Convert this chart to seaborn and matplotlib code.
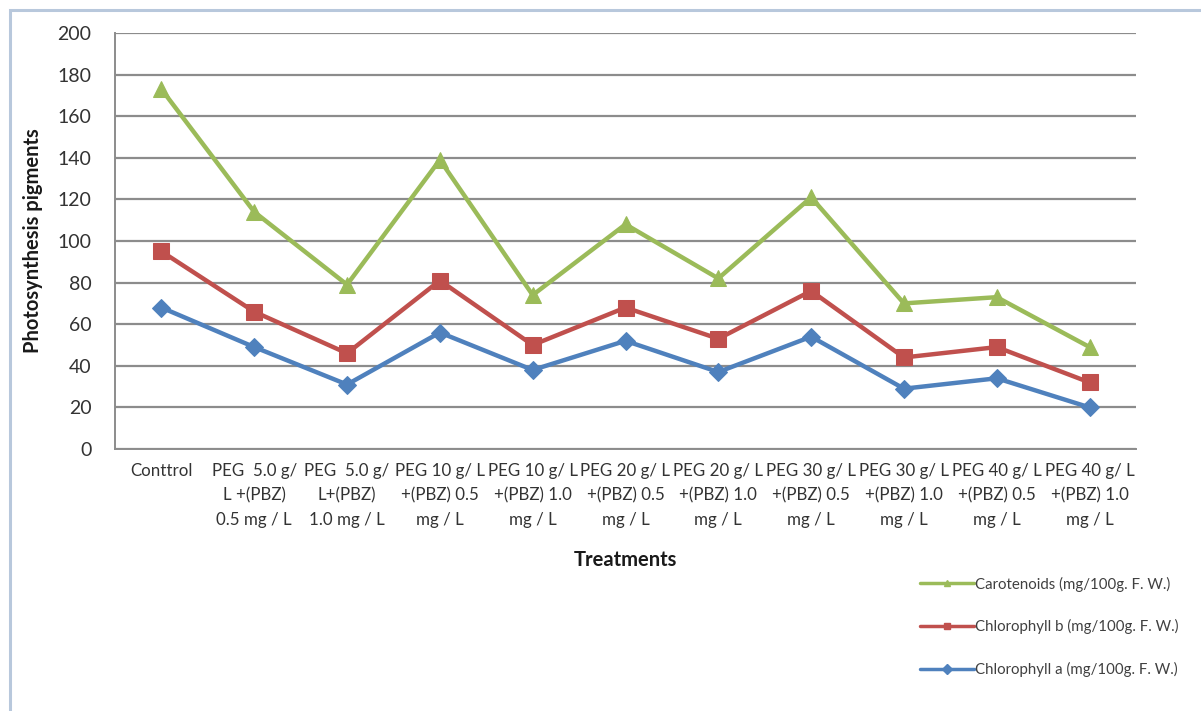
import matplotlib
matplotlib.use("Agg")
import matplotlib.pyplot as plt
from matplotlib.lines import Line2D
from matplotlib.patches import Rectangle
import seaborn as sns
import pandas as pd

# Treatments (x-axis categories, wrapped as printed)
treatments = [
    "Conttrol",
    "PEG  5.0 g/\nL +(PBZ)\n0.5 mg / L",
    "PEG  5.0 g/\nL+(PBZ)\n1.0 mg / L",
    "PEG 10 g/ L\n+(PBZ) 0.5\nmg / L",
    "PEG 10 g/ L\n+(PBZ) 1.0\nmg / L",
    "PEG 20 g/ L\n+(PBZ) 0.5\nmg / L",
    "PEG 20 g/ L\n+(PBZ) 1.0\nmg / L",
    "PEG 30 g/ L\n+(PBZ) 0.5\nmg / L",
    "PEG 30 g/ L\n+(PBZ) 1.0\nmg / L",
    "PEG 40 g/ L\n+(PBZ) 0.5\nmg / L",
    "PEG 40 g/ L\n+(PBZ) 1.0\nmg / L",
]

series_names = [
    "Carotenoids (mg/100g. F. W.)",
    "Chlorophyll b (mg/100g. F. W.)",
    "Chlorophyll a (mg/100g. F. W.)",
]

carotenoids = [173, 114, 79, 139, 74, 108, 82, 121, 70, 73, 49]
chlorophyll_b = [95, 66, 46, 81, 50, 68, 53, 76, 44, 49, 32]
chlorophyll_a = [68, 49, 31, 56, 38, 52, 37, 54, 29, 34, 20]

y_ticks = [0, 20, 40, 60, 80, 100, 120, 140, 160, 180, 200]

colors = {
    series_names[0]: "#9bbb59",
    series_names[1]: "#c0504d",
    series_names[2]: "#4f81bd",
}
markers = {
    series_names[0]: "^",
    series_names[1]: "s",
    series_names[2]: "D",
}
marker_sizes = {
    series_names[0]: 12,
    series_names[1]: 11,
    series_names[2]: 9,
}

rows = []
for name, values in zip(series_names, [carotenoids, chlorophyll_b, chlorophyll_a]):
    for i, v in enumerate(values):
        rows.append({"pos": i, "value": v, "series": name})
df = pd.DataFrame(rows)

sns.set_theme(style="white")
plt.rcParams["font.family"] = ["Lato", "DejaVu Sans"]

fig = plt.figure(figsize=(12.01, 7.11), dpi=100)
ax = fig.add_axes([115 / 1201, 1 - 449 / 711, (1136 - 115) / 1201, (449 - 33) / 711])

# draw bottom series first so the upper lines sit on top
for name in reversed(series_names):
    sns.lineplot(
        data=df[df["series"] == name], x="pos", y="value",
        color=colors[name], marker=markers[name], markersize=marker_sizes[name],
        markeredgecolor=colors[name], linewidth=3.2, ax=ax, legend=False,
        zorder=3,
    )

ax.set_xlim(-0.5, len(treatments) - 0.5)
ax.set_ylim(0, 200)
ax.set_yticks(y_ticks)
ax.set_yticklabels([str(t) for t in y_ticks], fontsize=14, color="#333333")

# category labels at centres, tick marks at category boundaries
ax.set_xticks(range(len(treatments)))
ax.set_xticklabels(treatments, fontsize=12.2, color="#333333", linespacing=1.65)
ax.set_xticks([i - 0.5 for i in range(len(treatments) + 1)], minor=True)
ax.tick_params(axis="x", which="major", length=0, pad=10)
ax.tick_params(axis="x", which="minor", length=6, width=1.2, color="#8c8c8c", direction="out")
ax.tick_params(axis="y", length=6, width=1.2, color="#8c8c8c", direction="out", pad=11)

ax.yaxis.grid(True, color="#8c8c8c", linewidth=1.6)
ax.xaxis.grid(False)
ax.set_axisbelow(True)
for side in ["top", "right"]:
    ax.spines[side].set_visible(False)
for side in ["left", "bottom"]:
    ax.spines[side].set_color("#8c8c8c")
    ax.spines[side].set_linewidth(1.4)

ax.set_xlabel("Treatments", fontsize=14.5, fontweight="bold", color="#1a1a1a", labelpad=16)
ax.set_ylabel("Photosynthesis pigments", fontsize=14.5, fontweight="bold", color="#1a1a1a", labelpad=10)

handles = [
    Line2D([0], [0], color=colors[n], marker=markers[n], markersize=5,
           linewidth=2.5, markeredgecolor=colors[n])
    for n in series_names
]
fig.legend(
    handles, series_names, loc="upper left",
    bbox_to_anchor=(906 / 1201, 1 - 563 / 711), frameon=False,
    fontsize=10.8, handlelength=3.6, handletextpad=0.1, labelspacing=1.85,
    labelcolor="#404040",
)

# light chart-area frame
fig.patches.append(Rectangle((10 / 1201, -0.05), 1.2, 1 - 10 / 711 + 0.05,
                             transform=fig.transFigure, fill=False,
                             edgecolor="#b8c8dc", linewidth=2.2, zorder=0))

fig.savefig("out.png", dpi=100)
